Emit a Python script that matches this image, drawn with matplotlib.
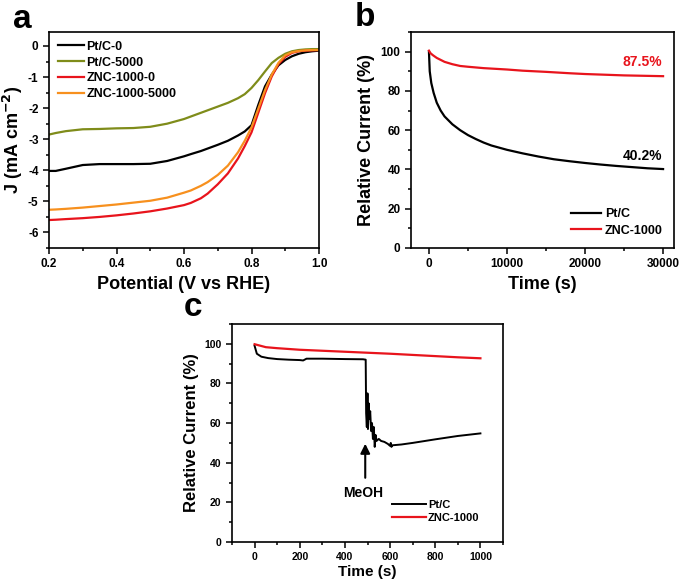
import numpy as np
import matplotlib
matplotlib.use("Agg")
import matplotlib.pyplot as plt
from matplotlib.ticker import MultipleLocator

plt.rcParams['font.family'] = ['Liberation Sans', 'DejaVu Sans']
plt.rcParams['font.weight'] = 'bold'
plt.rcParams['axes.labelweight'] = 'bold'
plt.rcParams['mathtext.default'] = 'bf'

# ---- panel a: LSV curves ----
pot = [0.20, 0.22, 0.25, 0.30, 0.35, 0.40, 0.45, 0.50, 0.55, 0.60, 0.62, 0.65, 0.67, 0.70, 0.73,
       0.76, 0.78, 0.80, 0.82, 0.84, 0.86, 0.88, 0.90, 0.92, 0.94, 0.96, 0.98, 1.00]
j_pt0 = [-4.02, -4.02, -3.95, -3.83, -3.80, -3.80, -3.80, -3.79, -3.70, -3.55, -3.48, -3.38, -3.30,
         -3.18, -3.05, -2.88, -2.75, -2.55, -1.90, -1.30, -0.92, -0.62, -0.45, -0.33, -0.25,
         -0.20, -0.17, -0.15]
j_pt5000 = [-2.85, -2.80, -2.74, -2.68, -2.67, -2.65, -2.64, -2.60, -2.50, -2.35, -2.27, -2.15, -2.07,
            -1.95, -1.83, -1.68, -1.55, -1.35, -1.10, -0.82, -0.55, -0.38, -0.25, -0.17, -0.13,
            -0.11, -0.10, -0.10]
j_znc0 = [-5.60, -5.59, -5.57, -5.54, -5.50, -5.45, -5.39, -5.32, -5.23, -5.12, -5.05, -4.90, -4.75,
          -4.45, -4.10, -3.62, -3.22, -2.78, -2.15, -1.52, -0.98, -0.58, -0.35, -0.22, -0.17,
          -0.15, -0.14, -0.13]
j_znc5000 = [-5.27, -5.26, -5.24, -5.20, -5.15, -5.10, -5.04, -4.98, -4.88, -4.72, -4.65, -4.50, -4.38,
             -4.15, -3.85, -3.42, -3.05, -2.62, -2.02, -1.42, -0.92, -0.54, -0.30, -0.20, -0.16,
             -0.14, -0.13, -0.13]
labels_a = ['Pt/C-0', 'Pt/C-5000', 'ZNC-1000-0', 'ZNC-1000-5000']
colors_a = ['black', '#7f8c1a', '#e8141c', '#f7901e']

# ---- panel b: chronoamperometry ----
t_b_pt = [0, 100, 300, 600, 1000, 1500, 2000, 3000, 4000, 5000, 6000, 7000, 8000, 10000,
          12000, 14000, 16000, 18000, 20000, 22000, 24000, 26000, 28000, 30000]
i_b_pt = [100, 90, 84, 79, 74, 70, 67, 63, 60, 57.5, 55.5, 53.7, 52.2, 50,
          48.2, 46.6, 45.2, 44.2, 43.3, 42.5, 41.8, 41.2, 40.6, 40.2]
t_b_znc = [0, 200, 500, 1000, 2000, 3000, 4000, 5000, 7000, 10000, 12000, 15000,
           18000, 20000, 25000, 30000]
i_b_znc = [100.5, 99.2, 98.2, 96.8, 94.8, 93.6, 92.7, 92.3, 91.6, 90.9, 90.3, 89.7,
           89.0, 88.6, 87.9, 87.5]

# ---- panel c: methanol tolerance ----
t_c_pt = [0, 10, 30, 60, 100, 150, 200, 215, 230, 300, 400, 480, 492, 494, 497, 500, 502,
          505, 508, 512, 516, 520, 524, 528, 532, 536, 540, 550, 560, 575, 590, 600, 603,
          606, 610, 650, 700, 800, 900, 1000]
i_c_pt = [99, 95, 93.5, 92.8, 92.3, 92, 91.8, 91.6, 92.5, 92.5, 92.3, 92.2, 92, 65, 58, 75, 57,
          70, 62, 66, 56, 60, 52, 58, 48, 54, 51, 52, 51, 50.5, 49.5, 48.5, 50,
          48, 48.8, 49.2, 50, 51.8, 53.5, 54.8]
t_c_znc = [0, 50, 100, 200, 300, 400, 500, 600, 700, 800, 900, 1000]
i_c_znc = [99.8, 98.3, 97.8, 97.0, 96.5, 96.0, 95.5, 95.0, 94.4, 93.8, 93.2, 92.7]

W, H = 685, 584
fig = plt.figure(figsize=(W / 100, H / 100), dpi=100)


def box(l, r, t, b):
    return [l / W, (H - b) / H, (r - l) / W, (b - t) / H]


def style(ax, fs):
    for s in ax.spines.values():
        s.set_linewidth(1.2)
    ax.tick_params(which='both', direction='out', width=1.1, labelsize=fs)
    ax.tick_params(which='major', length=4)
    ax.tick_params(which='minor', length=2.5)
    for lab in ax.get_xticklabels() + ax.get_yticklabels():
        lab.set_fontweight('bold')


# panel a
ax1 = fig.add_axes(box(49, 319, 32, 248))
for y, lab, c in zip([j_pt0, j_pt5000, j_znc0, j_znc5000], labels_a, colors_a):
    ax1.plot(pot, y, color=c, lw=1.6, label=lab)
ax1.set_xlim(0.2, 1.0)
ax1.set_ylim(-6.5, 0.45)
ax1.xaxis.set_minor_locator(MultipleLocator(0.1))
ax1.yaxis.set_minor_locator(MultipleLocator(0.5))
ax1.set_xticks([0.2, 0.4, 0.6, 0.8, 1.0], ['0.2', '0.4', '0.6', '0.8', '1.0'])
ax1.set_yticks(range(-6, 1), ['-6', '-5', '-4', '-3', '-2', '-1', '0'])
style(ax1, 8.5)
ax1.set_xlabel('Potential (V vs RHE)', fontsize=13, labelpad=4)
ax1.set_ylabel('J (mA cm$^{\\mathbf{-2}}$)', fontsize=13, labelpad=2)
ax1.legend(loc='upper left', frameon=False, handlelength=2.1,
           labelspacing=0.3, handletextpad=0.2, borderaxespad=0.3,
           prop={'weight': 'bold', 'size': 9})

# panel b
ax2 = fig.add_axes(box(411, 674, 32, 248))
ax2.plot(t_b_pt, i_b_pt, color='black', lw=1.6, label='Pt/C')
ax2.plot(t_b_znc, i_b_znc, color='#e8141c', lw=1.6, label='ZNC-1000')
ax2.set_xlim(-2300, 31400)
ax2.set_ylim(0, 110)
ax2.set_xticks([0, 10000, 20000, 30000])
ax2.xaxis.set_minor_locator(MultipleLocator(5000))
ax2.yaxis.set_major_locator(MultipleLocator(20))
ax2.yaxis.set_minor_locator(MultipleLocator(10))
style(ax2, 8.5)
ax2.set_xlabel('Time (s)', fontsize=13, labelpad=4)
ax2.set_ylabel('Relative Current (%)', fontsize=13, labelpad=4)
ax2.text(27300, 94.6, '87.5%', color='#e8141c', fontsize=10, fontweight='bold',
         ha='center', va='center')
ax2.text(27300, 47.1, '40.2%', color='black', fontsize=10, fontweight='bold',
         ha='center', va='center')
ax2.legend(loc='lower right', frameon=False, handlelength=2.4, labelspacing=0.35,
           handletextpad=0.3, prop={'weight': 'bold', 'size': 9})

# panel c
ax3 = fig.add_axes(box(232, 503, 324, 542))
ax3.plot(t_c_pt, i_c_pt, color='black', lw=1.4, label='Pt/C')
ax3.plot(t_c_znc, i_c_znc, color='#e8141c', lw=1.6, label='ZNC-1000')
ax3.set_xlim(-100, 1100)
ax3.set_ylim(0, 110)
ax3.set_xticks([0, 200, 400, 600, 800, 1000])
ax3.xaxis.set_minor_locator(MultipleLocator(100))
ax3.yaxis.set_major_locator(MultipleLocator(20))
ax3.yaxis.set_minor_locator(MultipleLocator(10))
style(ax3, 7.5)
ax3.set_xlabel('Time (s)', fontsize=11, labelpad=2)
ax3.set_ylabel('Relative Current (%)', fontsize=12, labelpad=4)
ax3.annotate('', xy=(490, 51), xytext=(490, 31),
             arrowprops=dict(arrowstyle='-|>', color='black', lw=1.5, mutation_scale=14))
ax3.text(480, 24.5, 'MeOH', fontsize=10, fontweight='bold', ha='center', va='center')
ax3.legend(loc='lower right', frameon=False, handlelength=3.0, labelspacing=0.3,
           handletextpad=0.2, bbox_to_anchor=(0.95, 0.04),
           prop={'weight': 'bold', 'size': 8})

fig.text(22 / W, 1 - 20 / H, 'a', fontsize=24, fontweight='bold', ha='center', va='center')
fig.text(365 / W, 1 - 17 / H, 'b', fontsize=24, fontweight='bold', ha='center', va='center')
fig.text(193 / W, 1 - 308 / H, 'c', fontsize=24, fontweight='bold', ha='center', va='center')

fig.savefig('out.png', dpi=100)
